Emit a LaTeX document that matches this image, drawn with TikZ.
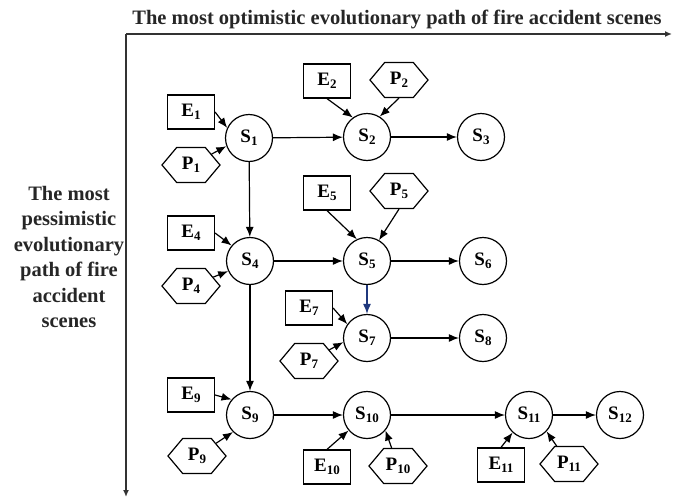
\documentclass[tikz,border=0pt]{standalone}
\usepackage{fontspec}
\setmainfont{Liberation Serif}
\usetikzlibrary{arrows.meta,shapes.symbols}
\newcommand{\mysub}[1]{\raisebox{-0.3ex}{\fontsize{13}{13}\selectfont #1}}
\definecolor{navy}{RGB}{31,56,125}
\begin{document}
\begin{tikzpicture}[x=1pt,y=-1pt,
  st/.style={circle,draw,line width=1.2pt,minimum size=47pt,inner sep=0pt,font=\bfseries\fontsize{19}{19}\selectfont},
  ev/.style={rectangle,draw,line width=1.2pt,minimum width=47pt,minimum height=34pt,inner sep=0pt,font=\bfseries\fontsize{19}{19}\selectfont},
  pv/.style={signal,signal to=east and west,signal pointer angle=100,draw,line width=1.2pt,minimum width=58pt,minimum height=35pt,inner sep=0pt,font=\bfseries\fontsize{19}{19}\selectfont},
  ar/.style={-{Latex[length=10pt,width=8pt]},line width=1.2pt},
  ax/.style={-{Latex[length=7pt,width=6pt]},line width=1.6pt,draw=black!80},
  lbl/.style={font=\bfseries\fontsize{20.5}{25.5}\selectfont,text=black!85,align=center}]
\useasboundingbox (0,0) rectangle (673,501);
% axes
\coordinate (O) at (126,34);
\coordinate (XE) at (672,34);
\coordinate (YE) at (126,497);
\draw[ax] (O) -- (XE);
\draw[ax] (O) -- (YE);
\node[lbl,anchor=base] (tt) at (397,24) {The most optimistic evolutionary path of fire accident scenes};
\node[lbl] (lt) at (69,257) {The most\\pessimistic\\evolutionary\\path of fire\\accident\\scenes};
% states
\node[st] (S1) at (249,138) {S\mysub{1}};
\node[st] (S2) at (367,137) {S\mysub{2}};
\node[st] (S3) at (481,137) {S\mysub{3}};
\node[st] (S4) at (250,261) {S\mysub{4}};
\node[st] (S5) at (367,261) {S\mysub{5}};
\node[st] (S6) at (483,261) {S\mysub{6}};
\node[st] (S7) at (367,338) {S\mysub{7}};
\node[st] (S8) at (483,338) {S\mysub{8}};
\node[st] (S9) at (250,415) {S\mysub{9}};
\node[st] (S10) at (367,415) {S\mysub{10}};
\node[st] (S11) at (529,415) {S\mysub{11}};
\node[st] (S12) at (620,415) {S\mysub{12}};
% E boxes
\node[ev] (E1) at (191,112) {E\mysub{1}};
\node[ev] (E2) at (327,81) {E\mysub{2}};
\node[ev] (E4) at (191,233) {E\mysub{4}};
\node[ev] (E5) at (327,193) {E\mysub{5}};
\node[ev] (E7) at (309,308) {E\mysub{7}};
\node[ev] (E9) at (191,395) {E\mysub{9}};
\node[ev] (E10) at (327,467) {E\mysub{10}};
\node[ev] (E11) at (501,465) {E\mysub{11}};
% P hexagons
\node[pv] (P1) at (191,165) {P\mysub{1}};
\node[pv] (P2) at (399,80) {P\mysub{2}};
\node[pv] (P4) at (191,286) {P\mysub{4}};
\node[pv] (P5) at (399,191) {P\mysub{5}};
\node[pv] (P7) at (309,361) {P\mysub{7}};
\node[pv] (P9) at (197,456) {P\mysub{9}};
\node[pv] (P10) at (398,466) {P\mysub{10}};
\node[pv] (P11) at (569,464) {P\mysub{11}};
% state transitions
\draw[ar] (S1) -- (S2);
\draw[ar] (S2) -- (S3);
\draw[ar] (S1) -- (S4);
\draw[ar] (S4) -- (S5);
\draw[ar] (S5) -- (S6);
\draw[ar,draw=navy,fill=navy] (S5) -- (S7);
\draw[ar] (S7) -- (S8);
\draw[ar] (S4) -- (S9);
\draw[ar] (S9) -- (S10);
\draw[ar] (S10) -- (S11);
\draw[ar] (S11) -- (S12);
% influences
\draw[ar] (E1.east) -- (S1.155);
\draw[ar] (P1) -- (S1.200);
\draw[ar] (E2.south) -- (S2.126);
\draw[ar] (P2.south) -- (S2.58);
\draw[ar] (E4.east) -- (S4.140);
\draw[ar] (P4) -- (S4.205);
\draw[ar] (E5.south) -- (S5.115);
\draw[ar] (P5.south) -- (S5.60);
\draw[ar] (E7.east) -- (S7.145);
\draw[ar] (P7) -- (S7.190);
\draw[ar] (E9.east) -- (S9.140);
\draw[ar] (P9) -- (S9.225);
\draw[ar] (E10.north) -- (S10.220);
\draw[ar] (P10) -- (S10.320);
\draw[ar] (E11.north) -- (S11.227);
\draw[ar] (P11) -- (S11.317);
\end{tikzpicture}
\end{document}
